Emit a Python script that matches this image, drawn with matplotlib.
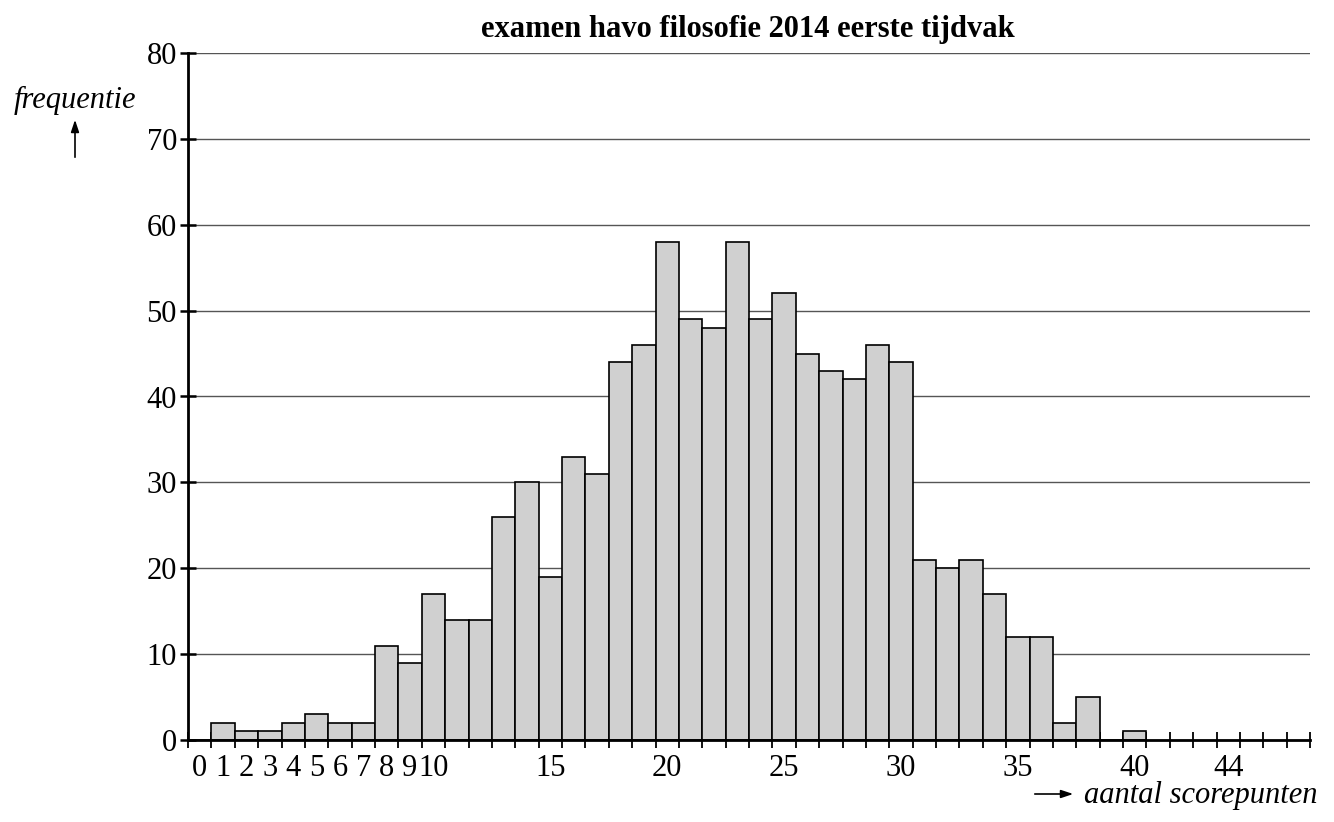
import matplotlib
matplotlib.use("Agg")
import matplotlib.pyplot as plt
from matplotlib.ticker import FixedLocator, NullFormatter, FixedFormatter

plt.rcParams['font.family'] = ['Liberation Serif', 'DejaVu Serif']

# scores 0..40, frequency per score
scores = list(range(0, 41))
freq = [0, 2, 1, 1, 2, 3, 2, 2, 11, 9, 17, 14, 14, 26, 30, 19, 33, 31, 44, 46,
        58, 49, 48, 58, 49, 52, 45, 43, 42, 46, 44, 21, 20, 21, 17, 12, 12, 2, 5, 0, 1]
xlabels = ['0', '1', '2', '3', '4', '5', '6', '7', '8', '9', '10', '15', '20', '25', '30', '35', '40', '44']
xlabel_pos = [0, 1, 2, 3, 4, 5, 6, 7, 8, 9, 10, 15, 20, 25, 30, 35, 40, 44]
yticks = [0, 10, 20, 30, 40, 50, 60, 70, 80]

title = 'examen havo filosofie 2014 eerste tijdvak'

W, H = 1334, 822
fig = plt.figure(figsize=(W / 100, H / 100), dpi=100)
ax = fig.add_axes([188 / W, 1 - 740 / H, (1310 - 188) / W, (740 - 53) / H])

ax.bar(scores, freq, width=1, align='edge', color='#d0d0d0',
       edgecolor='black', linewidth=1.2, zorder=2)

ax.set_xlim(0, 48)
ax.set_ylim(0, 80)

# gridlines
ax.set_yticks(yticks)
ax.yaxis.grid(True, color='#555555', linewidth=1.0)
ax.set_axisbelow(True)

# bin edge ticks (major) and centred labels (minor)
ax.xaxis.set_major_locator(FixedLocator(range(0, 49)))
ax.xaxis.set_major_formatter(NullFormatter())
ax.xaxis.set_minor_locator(FixedLocator([p + 0.5 for p in xlabel_pos]))
ax.xaxis.set_minor_formatter(FixedFormatter(xlabels))
ax.tick_params(axis='x', which='major', direction='inout', length=12, width=1.3)
ax.tick_params(axis='x', which='minor', length=0, pad=10, labelsize=22)
ax.tick_params(axis='y', direction='inout', length=12, width=1.8, labelsize=22, pad=2)

for s in ['top', 'right']:
    ax.spines[s].set_visible(False)
ax.spines['left'].set_linewidth(2)
ax.spines['bottom'].set_linewidth(2)

fig.text(748 / W, 1 - 30 / H, title, ha='center', va='center',
         fontsize=22, fontweight='bold')

fig.text(75 / W, 1 - 100 / H, 'frequentie', ha='center', va='center',
         fontsize=22, style='italic')
ax.annotate('', xy=(75, H - 117), xytext=(75, H - 160),
            xycoords='figure pixels', textcoords='figure pixels',
            arrowprops=dict(arrowstyle='-|>,head_length=0.6,head_width=0.2',
                            color='black', lw=1.2, mutation_scale=12))

fig.text(1318 / W, 1 - 795 / H, 'aantal scorepunten', ha='right', va='center',
         fontsize=22, style='italic')
ax.annotate('', xy=(1076, H - 794), xytext=(1032, H - 794),
            xycoords='figure pixels', textcoords='figure pixels',
            arrowprops=dict(arrowstyle='-|>,head_length=0.6,head_width=0.2',
                            color='black', lw=1.2, mutation_scale=12))

fig.savefig('out.png', dpi=100)
